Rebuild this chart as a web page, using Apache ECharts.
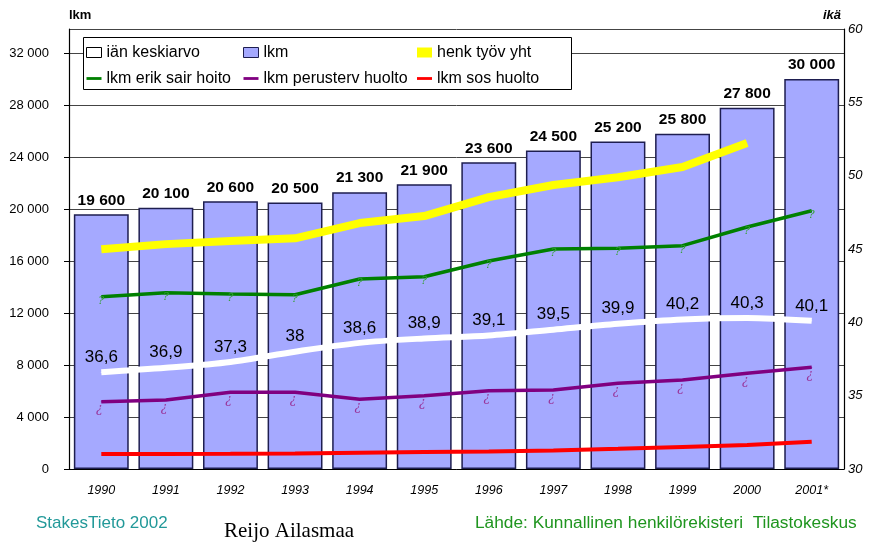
<!DOCTYPE html>
<html>
<head>
<meta charset="utf-8">
<script src="https://cdn.jsdelivr.net/npm/echarts@6/dist/echarts.min.js"></script>
<style>
html,body{margin:0;padding:0;background:#fff;}
#c{width:877px;height:543px;}
</style>
</head>
<body>
<div id="c"></div>
<script>
const years = ['1990','1991','1992','1993','1994','1995','1996','1997','1998','1999','2000','2001*'];
const lkm = [19600, 20100, 20600, 20500, 21300, 21900, 23600, 24500, 25200, 25800, 27800, 30000];
const ikaKeskiarvo = [36.6, 36.9, 37.3, 38, 38.6, 38.9, 39.1, 39.5, 39.9, 40.2, 40.3, 40.1];
const henkTyovYht = [16900, 17300, 17540, 17750, 18920, 19460, 20920, 21850, 22450, 23230, 25080, null];
const erikSairHoito = [13250, 13560, 13460, 13400, 14620, 14790, 16000, 16920, 16980, 17180, 18620, 19870];
const perustervHuolto = [5180, 5310, 5900, 5900, 5360, 5640, 6020, 6080, 6590, 6850, 7360, 7820];
const sosHuolto = [1150, 1150, 1170, 1200, 1250, 1300, 1350, 1420, 1550, 1700, 1850, 2100];
const leftTicks = [0, 4000, 8000, 12000, 16000, 20000, 24000, 28000, 32000];
const rightTicks = [30, 35, 40, 45, 50, 55, 60];

const FONT = '"Liberation Sans", Arial, sans-serif';
const fmtThousands = v => String(v).replace(/\B(?=(\d{3})+(?!\d))/g, ' ');
const lineIcon = 'path://M0,0M16,10M0,3.5L16,3.5L16,6.5L0,6.5Z';

const chart = echarts.init(document.getElementById('c'));
const legendBase = {
  orient: 'vertical', padding: 0, itemGap: 9, itemWidth: 15, itemHeight: 10,
  selectedMode: false,
  textStyle: {fontFamily: FONT, fontSize: 16, color: '#000', lineHeight: 17}
};
chart.setOption({
  animation: false,
  backgroundColor: '#fff',
  textStyle: {fontFamily: FONT},
  grid: {left: 69, right: 33, top: 29, bottom: 74},
  graphic: [
    {type: 'rect', left: 83, top: 37, z: 50,
     shape: {width: 488, height: 52},
     style: {fill: '#fff', stroke: '#000', lineWidth: 1}}
  ],
  legend: [
    Object.assign({}, legendBase, {left: 86, top: 44, z: 60, data: [
      {name: 'iän keskiarvo', icon: 'rect', itemStyle: {color: '#fff', borderColor: '#000', borderWidth: 1}},
      {name: 'lkm erik sair hoito', icon: lineIcon, itemStyle: {color: '#008000', borderWidth: 0}}
    ]}),
    Object.assign({}, legendBase, {left: 243, top: 44, z: 60, data: [
      {name: 'lkm', icon: 'rect', itemStyle: {color: '#a5a9ff', borderColor: '#1e1e50', borderWidth: 1}},
      {name: 'lkm perusterv huolto', icon: lineIcon, itemStyle: {color: '#800080', borderWidth: 0}}
    ]}),
    Object.assign({}, legendBase, {left: 417, top: 44, z: 60, data: [
      {name: 'henk työv yht', icon: 'rect', itemStyle: {color: '#ffff00', borderWidth: 0}},
      {name: 'lkm sos huolto', icon: lineIcon, itemStyle: {color: '#ff0000', borderWidth: 0}}
    ]})
  ],
  title: [
    {text: 'StakesTieto 2002', left: 36, top: 515, padding: 0,
     textStyle: {fontFamily: FONT, fontSize: 17, fontWeight: 'normal', color: '#229999'}},
    {text: 'Reijo Ailasmaa', left: 224, top: 521, padding: 0,
     textStyle: {fontFamily: '"Liberation Serif", "Times New Roman", serif', fontSize: 21, fontWeight: 'normal', color: '#000'}},
    {text: 'Lähde: Kunnallinen henkilörekisteri  Tilastokeskus', left: 475, top: 515, padding: 0,
     textStyle: {fontFamily: FONT, fontSize: 17.3, fontWeight: 'normal', color: '#1f951f'}}
  ],
  xAxis: {
    type: 'category', data: years, boundaryGap: true,
    axisLine: {show: true, lineStyle: {color: '#000', width: 1}},
    axisTick: {show: false},
    axisLabel: {fontFamily: FONT, fontSize: 12.5, fontStyle: 'italic', color: '#000', margin: 15}
  },
  yAxis: [
    {
      type: 'value', min: 0, max: 33850, interval: 4000, position: 'left',
      name: 'lkm', nameLocation: 'end', nameGap: 14,
      nameTextStyle: {fontFamily: FONT, fontSize: 13, fontWeight: 'bold', color: '#000', align: 'left', verticalAlign: 'middle'},
      axisLine: {show: true, lineStyle: {color: '#000', width: 1.2}},
      axisTick: {show: true, length: 5, inside: false, lineStyle: {color: '#000'}},
      axisLabel: {showMaxLabel: false, fontFamily: FONT, fontSize: 13, color: '#000', margin: 20,
        formatter: v => leftTicks.indexOf(v) >= 0 ? fmtThousands(v) : ''},
      splitLine: {show: true, lineStyle: {color: '#444', width: 1}}
    },
    {
      type: 'value', min: 30, max: 60, interval: 5, position: 'right',
      name: 'ikä', nameLocation: 'end', nameGap: 14,
      nameTextStyle: {fontFamily: FONT, fontSize: 13, fontWeight: 'bold', fontStyle: 'italic', color: '#000', align: 'right', verticalAlign: 'middle', padding: [0, 3, 0, 0]},
      axisLine: {show: true, lineStyle: {color: '#000', width: 1.2}},
      axisTick: {show: false},
      axisLabel: {fontFamily: FONT, fontSize: 13, fontStyle: 'italic', color: '#000', margin: 4,
        formatter: v => rightTicks.indexOf(v) >= 0 ? String(v) : ''},
      splitLine: {show: false}
    }
  ],
  series: [
    {
      name: 'lkm', type: 'bar', yAxisIndex: 0, data: lkm, barCategoryGap: '15%',
      itemStyle: {color: '#a5a9ff', borderColor: '#1e1e50', borderWidth: 1.5},
      label: {show: true, position: 'top', distance: 6, fontFamily: FONT, fontSize: 15.5, fontWeight: 'bold', color: '#000',
        formatter: p => fmtThousands(p.value)},
      z: 2
    },
    {
      name: 'lkm sos huolto', type: 'line', yAxisIndex: 0, data: sosHuolto,
      symbol: 'none', lineStyle: {color: '#ff0000', width: 4}, itemStyle: {color: '#ff0000'}, z: 3
    },
    {
      name: 'lkm perusterv huolto', type: 'line', yAxisIndex: 0, data: perustervHuolto,
      symbol: 'circle', symbolSize: 1, lineStyle: {color: '#800080', width: 3.5}, itemStyle: {color: '#800080'},
      label: {show: true, position: 'bottom', distance: 1, formatter: '¿', fontFamily: '"DejaVu Serif", serif',
        fontStyle: 'italic', fontSize: 12, color: '#993399', offset: [-2, 0]},
      z: 3
    },
    {
      name: 'iän keskiarvo', type: 'line', yAxisIndex: 1, data: ikaKeskiarvo, smooth: 0.3,
      symbol: 'circle', symbolSize: 1, lineStyle: {color: '#ffffff', width: 6}, itemStyle: {color: '#ffffff'},
      label: {show: true, position: 'top', distance: 6, fontFamily: FONT, fontSize: 17, color: '#000',
        formatter: p => String(p.value).replace('.', ',')},
      z: 3
    },
    {
      name: 'lkm erik sair hoito', type: 'line', yAxisIndex: 0, data: erikSairHoito,
      symbol: 'circle', symbolSize: 1, lineStyle: {color: '#008000', width: 3.5}, itemStyle: {color: '#008000'},
      label: {show: true, position: 'bottom', distance: -2, formatter: '?', fontFamily: '"DejaVu Serif", serif',
        fontStyle: 'italic', fontSize: 11, color: '#33a033'},
      z: 3
    },
    {
      name: 'henk työv yht', type: 'line', yAxisIndex: 0, data: henkTyovYht,
      symbol: 'none', lineStyle: {color: '#ffff00', width: 8}, itemStyle: {color: '#ffff00'}, z: 4
    }
  ]
});
</script>
</body>
</html>
